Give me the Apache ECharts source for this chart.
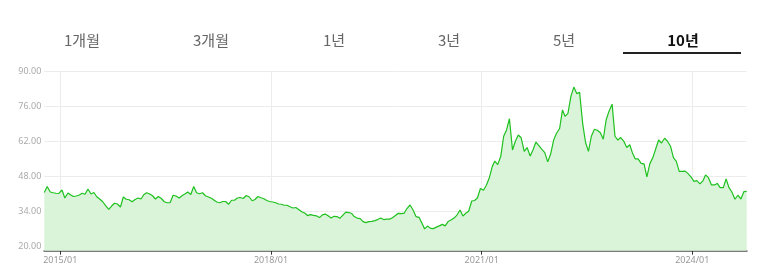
<!DOCTYPE html>
<html>
<head>
<meta charset="utf-8">
<script src="https://cdn.jsdelivr.net/npm/echarts@6/dist/echarts.min.js"></script>
<style>
html,body{margin:0;padding:0;background:#fff;}
#chart{width:765px;height:279px;}
</style>
</head>
<body>
<div id="chart"></div>
<script>
// ---- data ----
const tabLabels = ['1개월', '3개월', '1년', '3년', '5년', '10년'];
const activeTab = '10년';
const startDate = '2014-10-10';
const endDate = '2024-10-10';
const yTickValues = [20, 34, 48, 62, 76, 90];
const xLabelDates = ['2015-01-01', '2018-01-01', '2021-01-01', '2024-01-01'];
// semi-monthly closes (10th and 25th of each month)
const values = [
  41.6, 44.0, 41.8, 41.5, 41.3, 41.2, 42.6, 39.4, 41.4, 40.6,
  40.0, 40.2, 40.6, 41.3, 40.9, 43.0, 41.0, 41.6, 39.9, 39.0,
  37.9, 36.4, 34.9, 36.2, 37.3, 37.0, 35.8, 39.8, 38.9, 38.7,
  37.9, 38.8, 39.4, 39.0, 40.7, 41.5, 41.0, 40.3, 39.0, 40.0,
  39.2, 37.9, 37.5, 37.5, 40.5, 40.2, 39.4, 40.3, 41.0, 41.8,
  40.8, 44.0, 41.5, 41.1, 41.5, 40.3, 39.8, 39.3, 38.6, 37.8,
  37.5, 38.0, 38.0, 36.9, 38.5, 38.5, 39.4, 39.6, 39.2, 40.4,
  39.8, 38.3, 38.8, 40.0, 39.5, 39.1, 38.4, 38.0, 37.8, 37.5,
  37.0, 36.9, 36.5, 36.5, 35.9, 35.4, 35.6, 34.8, 33.9, 33.4,
  32.4, 32.8, 32.5, 32.3, 31.6, 32.7, 33.0, 32.3, 31.4, 32.1,
  32.0, 31.3, 32.6, 33.8, 33.6, 33.2, 32.0, 31.4, 31.2, 30.0,
  29.6, 30.0, 30.1, 30.4, 30.8, 31.4, 30.8, 31.0, 31.0, 31.5,
  32.4, 33.3, 33.2, 33.4, 35.3, 36.6, 34.6, 32.0, 31.7, 29.3,
  27.1, 28.2, 27.3, 27.2, 27.8, 28.3, 28.9, 28.3, 30.0, 30.6,
  31.4, 32.6, 34.6, 32.2, 33.3, 34.1, 38.2, 38.4, 39.5, 43.2,
  42.5, 44.5, 47.6, 52.0, 54.1, 52.7, 56.0, 64.0, 66.5, 71.0,
  58.5, 62.0, 64.5, 63.4, 58.0, 59.5, 56.1, 58.6, 61.7, 60.3,
  58.8, 57.5, 53.8, 56.8, 62.5, 65.2, 67.1, 74.5, 72.0, 73.0,
  80.0, 83.6, 81.0, 81.5, 69.0, 61.5, 58.0, 64.0, 66.8, 66.4,
  65.4, 62.8, 70.5, 74.0, 76.8, 64.0, 62.5, 63.5, 62.0, 59.5,
  60.6, 57.1, 55.0, 55.0, 53.2, 53.0, 47.8, 53.0, 55.5, 59.0,
  62.5, 61.3, 63.2, 62.0, 60.0, 55.5, 54.0, 50.0, 50.0, 50.1,
  49.1, 47.8, 46.0, 46.3, 45.0, 46.2, 48.6, 47.5, 44.6, 44.6,
  45.2, 43.5, 43.5, 47.0, 43.5, 41.8, 38.9, 40.5, 39.0, 41.9,
  42.0
];

// dates for each value: 10th and 25th of each month from startDate
function buildDates(start, end) {
  const out = [];
  const s = new Date(start + 'T00:00:00Z');
  const e = new Date(end + 'T00:00:00Z');
  let y = s.getUTCFullYear(), m = s.getUTCMonth();
  while (true) {
    for (const d of [10, 25]) {
      const t = Date.UTC(y, m, d);
      if (t >= s.getTime() && t <= e.getTime()) out.push(t);
    }
    if (Date.UTC(y, m, 1) > e.getTime()) break;
    m++; if (m > 11) { m = 0; y++; }
  }
  return out;
}
const dates = buildDates(startDate, endDate);
const seriesData = values.map((v, i) => [dates[i], v]);
const xLabelTimes = xLabelDates.map(d => new Date(d + 'T00:00:00Z').getTime());

const chart = echarts.init(document.getElementById('chart'), null, {renderer: 'canvas'});

const tabCenters = [82, 211, 334, 449, 564, 683];
const graphics = tabLabels.map((t, i) => ({
  type: 'text',
  x: tabCenters[i],
  y: 40,
  style: {
    text: t,
    fill: t === activeTab ? '#111' : '#666',
    font: (t === activeTab ? 'bold ' : '') + '15px "Noto Sans CJK KR", sans-serif',
    align: 'center',
    verticalAlign: 'middle'
  }
}));
graphics.push({
  type: 'rect',
  shape: {x: 623, y: 52, width: 118, height: 2},
  style: {fill: '#222'}
});

const option = {
  animation: false,
  backgroundColor: '#fff',
  graphic: graphics,
  grid: {left: 44.3, right: 18.3, top: 71, bottom: 28.3, containLabel: false},
  xAxis: {
    type: 'value',
    min: dates[0],
    max: dates[dates.length - 1],
    axisLine: {lineStyle: {color: '#7a7a7a', width: 2}},
    axisTick: {show: true, customValues: xLabelTimes, length: 4, lineStyle: {color: '#333', width: 1}},
    axisLabel: {
      customValues: xLabelTimes,
      color: '#999',
      fontSize: 9,
      fontFamily: '"Noto Sans", sans-serif',
      margin: 5,
      formatter: function (v) {
        const d = new Date(v);
        const mm = String(d.getUTCMonth() + 1).padStart(2, '0');
        return d.getUTCFullYear() + '/' + mm;
      }
    },
    splitLine: {show: true, lineStyle: {color: '#ececec', width: 1}}
  },
  yAxis: {
    type: 'value',
    min: 18.4,
    max: 90,
    axisLine: {show: false},
    axisTick: {show: false, customValues: yTickValues},
    axisLabel: {
      customValues: yTickValues,
      color: '#aaa',
      fontSize: 9,
      fontFamily: '"Noto Sans", sans-serif',
      margin: 3,
      formatter: v => v.toFixed(2)
    },
    splitLine: {show: true, lineStyle: {color: '#ececec', width: 1}}
  },
  series: [{
    type: 'line',
    data: seriesData,
    symbol: 'none',
    smooth: false,
    lineStyle: {color: '#1fc11f', width: 1.2},
    areaStyle: {color: '#d9f4d9', opacity: 1, origin: 'start'}
  }]
};
chart.setOption(option);
</script>
</body>
</html>
